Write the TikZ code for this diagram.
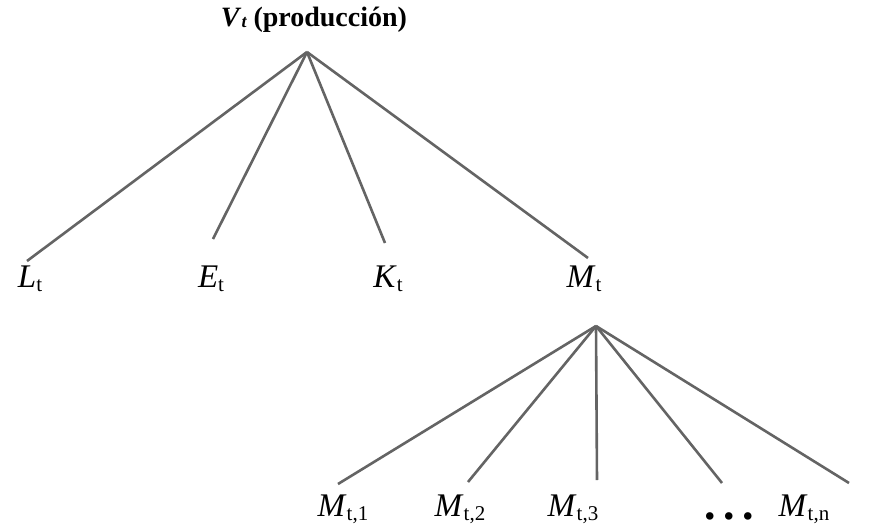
\documentclass[tikz,border=0pt]{standalone}
\usepackage{fontspec}
\setmainfont{Liberation Serif}
\definecolor{linegray}{RGB}{100,100,100}
\tikzset{
  branch/.style={draw=linegray, line width=2.6pt},
  lbl/.style={inner sep=0pt, anchor=base, font=\fontsize{33}{36}\selectfont},
  ttl/.style={inner sep=0pt, anchor=base, font=\bfseries\fontsize{28}{32}\selectfont},
}
\newcommand{\sbt}[1]{\raisebox{-0.3ex}{\fontsize{21}{24}\selectfont #1}}
\begin{document}
\begin{tikzpicture}[x=1pt,y=-1pt]
\useasboundingbox (0,0) rectangle (879,525);
\node[ttl] (title) at (314,26) {\textit{V}\raisebox{-0.15ex}{\fontsize{18}{20}\selectfont\itshape t} (producción)};
\coordinate (top) at (307,52);
\coordinate (eL) at (27,261);
\coordinate (eE) at (213,239);
\coordinate (eK) at (385,243);
\coordinate (eM) at (588,258);
\node[lbl] (L) at (30,287) {\textit{L}\sbt{t}};
\node[lbl] (E) at (211,287) {\textit{E}\sbt{t}};
\node[lbl] (K) at (388,287) {\textit{K}\sbt{t}};
\node[lbl] (M) at (584,287) {\textit{M}\sbt{t}};
\foreach \e in {eL,eE,eK,eM} \draw[branch] (top) -- (\e);
\coordinate (low) at (596,326);
\coordinate (e1) at (338,484);
\coordinate (e2) at (468,482);
\coordinate (e3) at (597,480);
\coordinate (e4) at (722,483);
\coordinate (e5) at (849,483);
\node[lbl] (M1) at (343,516) {\textit{M}\sbt{t,1}};
\node[lbl] (M2) at (460,516) {\textit{M}\sbt{t,2}};
\node[lbl] (M3) at (573,516) {\textit{M}\sbt{t,3}};
\node[inner sep=0pt, anchor=base, text depth=0pt, text height=8pt, font=\bfseries\fontsize{46}{46}\selectfont] (dots) at (729,519) {.\hspace{7.5pt}.\hspace{7.5pt}.};
\node[lbl] (Mn) at (804,516) {\textit{M}\sbt{t,n}};
\foreach \e in {e1,e2,e3,e4,e5} \draw[branch] (low) -- (\e);
\end{tikzpicture}
\end{document}
